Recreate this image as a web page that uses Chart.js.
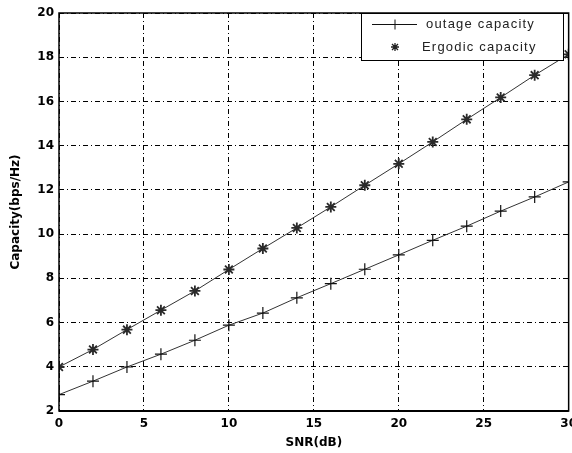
<!DOCTYPE html>
<html>
<head>
<meta charset="utf-8">
<script src="https://cdn.jsdelivr.net/npm/chart.js@4/dist/chart.umd.min.js"></script>
<style>
  html, body { margin: 0; padding: 0; background: #fff; overflow: hidden; }
  #wrap { width: 572px; height: 453px; overflow: hidden; position: relative; }
  #c { position: absolute; left: 0; top: 0; }
</style>
</head>
<body>
<div id="wrap"><canvas id="c" width="583" height="453"></canvas></div>
<script>
// SNR sample points (dB)
const snrDb = [0, 2, 4, 6, 8, 10, 12, 14, 16, 18, 20, 22, 24, 26, 28, 30];
// Outage capacity (bps/Hz)
const outageCapacity = [2.74, 3.35, 3.99, 4.57, 5.2, 5.88, 6.43, 7.12, 7.76, 8.41, 9.06, 9.72, 10.36, 11.04, 11.68, 12.36];
// Ergodic capacity (bps/Hz)
const ergodicCapacity = [3.99, 4.78, 5.68, 6.56, 7.43, 8.4, 9.35, 10.28, 11.23, 12.21, 13.18, 14.17, 15.19, 16.18, 17.19, 18.13];
// Axis ticks
const xTicks = [0, 5, 10, 15, 20, 25, 30];
const yTicks = [2, 4, 6, 8, 10, 12, 14, 16, 18, 20];

const seriesNames = ['outage capacity', 'Ergodic capacity'];

const tickFont = { family: 'DejaVu Sans', size: 12, weight: 'bold' };
const gridDash = [5, 3, 1, 3];

// Frame around the plot area plus the boxed legend in the top-right corner
const framePlugin = {
  id: 'frameAndLegend',
  afterDraw(chart) {
    const { ctx, chartArea: a } = chart;
    ctx.save();
    ctx.setLineDash([]);
    ctx.strokeStyle = '#000';
    ctx.lineWidth = 1.5;
    ctx.strokeRect(a.left, a.top, a.right - a.left, a.bottom - a.top);
    ctx.lineWidth = 2;
    ctx.beginPath();
    ctx.moveTo(a.left, a.bottom);
    ctx.lineTo(a.right, a.bottom);
    ctx.stroke();

    // legend box
    const bx = 361, by = a.top, bw = 202, bh = 47;
    ctx.fillStyle = '#fff';
    ctx.fillRect(bx, by, bw, bh);
    ctx.lineWidth = 1;
    ctx.strokeStyle = '#000';
    ctx.strokeRect(bx + 0.5, by + 0.5, bw, bh);

    // row 1: line with plus marker
    const y1 = by + 11.5, y2 = by + 34;
    ctx.strokeStyle = '#111';
    ctx.beginPath();
    ctx.moveTo(372, y1); ctx.lineTo(417, y1);
    ctx.moveTo(395, y1 - 5); ctx.lineTo(395, y1 + 5);
    ctx.stroke();
    // row 2: star marker only
    ctx.strokeStyle = '#222';
    ctx.lineWidth = 1.3;
    ctx.beginPath();
    ctx.moveTo(395, y2 - 4); ctx.lineTo(395, y2 + 4);
    ctx.moveTo(391, y2); ctx.lineTo(399, y2);
    ctx.moveTo(392, y2 - 3); ctx.lineTo(398, y2 + 3);
    ctx.moveTo(398, y2 - 3); ctx.lineTo(392, y2 + 3);
    ctx.stroke();

    ctx.fillStyle = '#222';
    ctx.font = '13px "Liberation Sans"';
    ctx.letterSpacing = '1.2px';
    ctx.textBaseline = 'middle';
    ctx.textAlign = 'left';
    ctx.fillText(seriesNames[0], 426, y1);
    ctx.fillText(seriesNames[1], 422, y2);
    ctx.restore();
  }
};

new Chart(document.getElementById('c'), {
  type: 'line',
  data: {
    datasets: [
      {
        label: seriesNames[0],
        data: snrDb.map((x, i) => ({ x, y: outageCapacity[i] })),
        borderColor: '#333',
        borderWidth: 1,
        pointStyle: 'cross',
        pointRadius: 6,
        pointBorderWidth: 1.2,
        pointBorderColor: '#111',
        pointBackgroundColor: '#111',
        tension: 0
      },
      {
        label: seriesNames[1],
        data: snrDb.map((x, i) => ({ x, y: ergodicCapacity[i] })),
        borderColor: '#333',
        borderWidth: 1,
        pointStyle: 'star',
        pointRadius: 5.5,
        pointBorderWidth: 1.8,
        pointBorderColor: '#2a2a2a',
        pointBackgroundColor: '#2a2a2a',
        tension: 0
      }
    ]
  },
  options: {
    responsive: false,
    animation: false,
    layout: { padding: { left: 0, right: 11, top: 13, bottom: 0 } },
    plugins: { legend: { display: false }, tooltip: { enabled: false } },
    scales: {
      x: {
        type: 'linear',
        min: 0, max: 30,
        afterBuildTicks(s) { s.ticks = xTicks.map(v => ({ value: v })); },
        afterFit(s) { s.height = 42; },
        ticks: { color: '#000', font: tickFont, padding: 6, maxRotation: 0, autoSkip: false },
        grid: { color: '#000', lineWidth: 1, drawTicks: false },
        border: { display: false, dash: gridDash },
        title: { display: true, text: 'SNR(dB)', color: '#000', font: tickFont, padding: { top: 0, bottom: 3 } }
      },
      y: {
        type: 'linear',
        min: 2, max: 20,
        afterBuildTicks(s) { s.ticks = yTicks.map(v => ({ value: v })); },
        afterFit(s) { s.width = 59; },
        ticks: { color: '#000', font: tickFont, padding: 5, autoSkip: false },
        grid: { color: '#000', lineWidth: 1, drawTicks: false },
        border: { display: false, dash: gridDash },
        title: { display: true, text: 'Capacity(bps/Hz)', color: '#000', font: tickFont, padding: { top: 9, bottom: 0 } }
      }
    }
  },
  plugins: [framePlugin]
});
</script>
</body>
</html>
